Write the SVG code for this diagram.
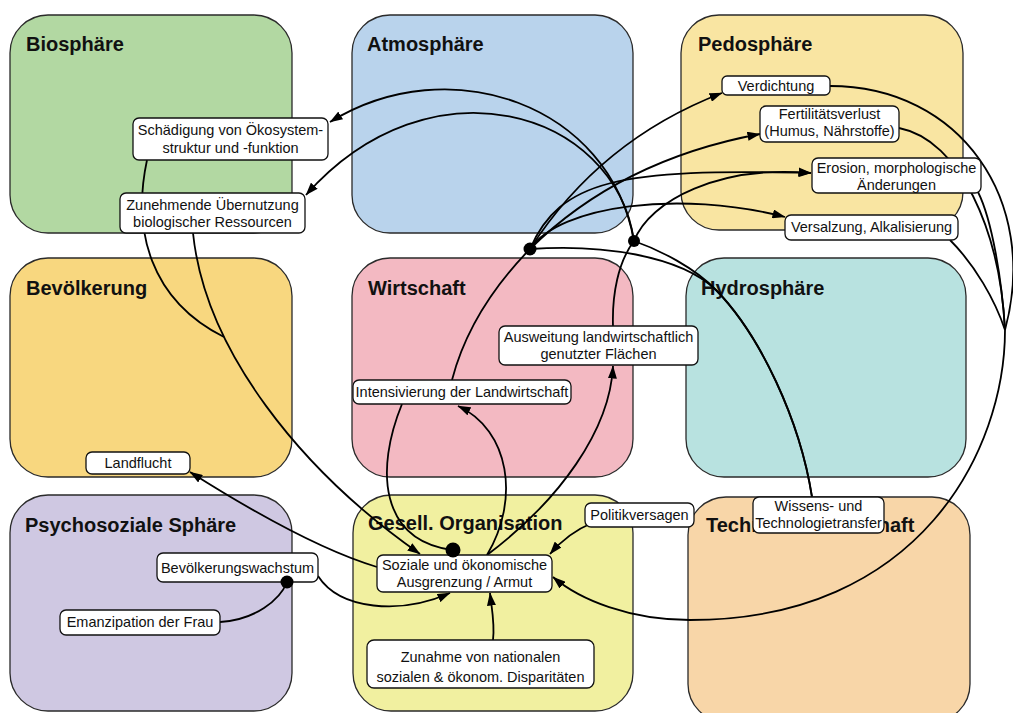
<svg xmlns="http://www.w3.org/2000/svg" width="1013" height="713" viewBox="0 0 1013 713">
<style>
.area{stroke:#2a2a2a;stroke-width:1.3}
.title{font-family:"Liberation Sans",Arial,sans-serif;font-size:20px;font-weight:bold;fill:#111}
.box{fill:#fff;stroke:#111;stroke-width:1.3}
.lbl{font-family:"Liberation Sans",Arial,sans-serif;font-size:14.5px;fill:#111;text-anchor:middle}
.c{fill:none;stroke:#000;stroke-width:1.8}
.a{marker-end:url(#arr)}
.dot{fill:#000}
</style>
<defs>
<marker id="arr" viewBox="0 0 13 9" refX="12.5" refY="4.5" markerWidth="13" markerHeight="9" markerUnits="userSpaceOnUse" orient="auto"><path d="M0,0 L13,4.5 L0,9 z" fill="#000"/></marker>
</defs>
<rect width="1013" height="713" fill="#fff"/>
<g id="areas">
<g id="biosphaere"><rect class="area" x="10" y="15" width="282" height="218" rx="38" fill="#b2d8a2"/><text class="title" x="26" y="51">Biosphäre</text></g>
<g id="atmosphaere"><rect class="area" x="352" y="15" width="281" height="218" rx="38" fill="#b9d3ec"/><text class="title" x="367" y="51">Atmosphäre</text></g>
<g id="pedosphaere"><rect class="area" x="681" y="15" width="282" height="215" rx="38" fill="#f9e5a2"/><text class="title" x="698" y="51">Pedosphäre</text></g>
<g id="bevoelkerung"><rect class="area" x="10" y="258" width="282" height="219" rx="38" fill="#f8d77f"/><text class="title" x="26" y="295">Bevölkerung</text></g>
<g id="wirtschaft"><rect class="area" x="352" y="258" width="281" height="219" rx="38" fill="#f3b9c2"/><text class="title" x="368" y="295">Wirtschaft</text></g>
<g id="hydrosphaere"><rect class="area" x="686" y="258" width="280" height="219" rx="38" fill="#b8e2e0"/><text class="title" x="701" y="295">Hydrosphäre</text></g>
<g id="psychosozial"><rect class="area" x="10" y="495" width="282" height="216" rx="38" fill="#cfc8e2"/><text class="title" x="25" y="532">Psychosoziale Sphäre</text></g>
<g id="gesellorg"><rect class="area" x="353" y="495" width="280" height="216" rx="38" fill="#f1f0a0"/><text class="title" x="368" y="530">Gesell. Organisation</text></g>
<g id="technik"><rect class="area" x="688" y="497" width="282" height="225" rx="38" fill="#f8d6a8"/><text class="title" x="706" y="532">Technik/Wissenschaft</text></g>
</g>
<g id="connectors">
<path class="c" d="M452,380 C465,330 495,285 530,249"/>
<path class="c a" d="M530,249 Q600,140 722,93"/>
<path class="c a" d="M530,249 Q620,160 760,134"/>
<path class="c a" d="M530,249 C560,180 620,168 811,173"/>
<path class="c a" d="M530,249 C560,205 680,190 785,217"/>
<path class="c" d="M613,326 C612,295 618,262 634,241"/>
<path class="c a" d="M634,241 C610,105 450,48 330,122"/>
<path class="c a" d="M634,241 C615,110 430,55 306,195"/>
<path class="c a" d="M634,241 C650,200 720,165 811,173"/>
<path class="c" d="M812,497 C800,420 760,335 716,290 C680,255 600,244 530,249"/>
<path class="c" d="M812,497 C800,420 760,335 716,290 C695,268 660,250 634,241"/>
<path class="c" d="M830,86 C960,86 1040,200 1005,330"/>
<path class="c" d="M899,128 C960,140 1000,230 1005,330"/>
<path class="c" d="M978,192 C992,220 1002,280 1005,330"/>
<path class="c" d="M950,240 C975,265 995,300 1005,330"/>
<path class="c a" d="M1005,330 C1005,450 920,620 690,620 C630,620 580,600 553,577"/>
<path class="c" d="M147,160 C132,230 150,300 224,337"/>
<path class="c a" d="M193,233 C205,350 300,470 420,554"/>
<path class="c" d="M402,404 C375,470 380,540 452,550"/>
<path class="c a" d="M487,555 C520,500 510,430 458,406"/>
<path class="c a" d="M487,555 C560,500 610,430 613,366"/>
<path class="c a" d="M377,567 C320,550 250,510 190,472"/>
<path class="c" d="M220,622 C255,620 280,600 287,582"/>
<path class="c a" d="M318,576 C340,610 400,615 450,593"/>
<path class="c a" d="M493,640 C495,625 492,610 490,593"/>
<path class="c a" d="M592,523 C575,530 562,540 550,554"/>
</g>
<g id="n-schaedigung"><rect class="box" x="133" y="118" width="195" height="42" rx="6"/><text class="lbl" x="230.5" y="135">Schädigung von Ökosystem-</text><text class="lbl" x="230.5" y="153">struktur und -funktion</text></g>
<g id="n-uebernutzung"><rect class="box" x="120" y="193" width="185" height="40" rx="6"/><text class="lbl" x="212.5" y="210">Zunehmende Übernutzung</text><text class="lbl" x="212.5" y="227">biologischer Ressourcen</text></g>
<g id="n-verdichtung"><rect class="box" x="722" y="76" width="108" height="19" rx="5"/><text class="lbl" x="776" y="90.5">Verdichtung</text></g>
<g id="n-fertilitaet"><rect class="box" x="760" y="106" width="139" height="36" rx="6"/><text class="lbl" x="829.5" y="119">Fertilitätsverlust</text><text class="lbl" x="829.5" y="136">(Humus, Nährstoffe)</text></g>
<g id="n-erosion"><rect class="box" x="812" y="158" width="169" height="35" rx="6"/><text class="lbl" x="896.5" y="173">Erosion, morphologische</text><text class="lbl" x="896.5" y="190">Änderungen</text></g>
<g id="n-versalzung"><rect class="box" x="785" y="215" width="173" height="25" rx="6"/><text class="lbl" x="871.5" y="232">Versalzung, Alkalisierung</text></g>
<g id="n-intensivierung"><rect class="box" x="353" y="380" width="218" height="24" rx="6"/><text class="lbl" x="462" y="396.5">Intensivierung der Landwirtschaft</text></g>
<g id="n-ausweitung"><rect class="box" x="499" y="326" width="199" height="39" rx="6"/><text class="lbl" x="598.5" y="342">Ausweitung landwirtschaftlich</text><text class="lbl" x="598.5" y="359">genutzter Flächen</text></g>
<g id="n-landflucht"><rect class="box" x="86" y="452" width="104" height="22" rx="6"/><text class="lbl" x="138" y="468">Landflucht</text></g>
<g id="n-bevwachstum"><rect class="box" x="157" y="553" width="161" height="29" rx="6"/><text class="lbl" x="237.5" y="572.5">Bevölkerungswachstum</text></g>
<g id="n-emanzipation"><rect class="box" x="60" y="610" width="160" height="25" rx="6"/><text class="lbl" x="140" y="627">Emanzipation der Frau</text></g>
<g id="n-soziale"><rect class="box" x="377" y="555" width="175" height="37" rx="6"/><text class="lbl" x="464.5" y="569.5">Soziale und ökonomische</text><text class="lbl" x="464.5" y="587">Ausgrenzung / Armut</text></g>
<g id="n-zunahme"><rect class="box" x="367" y="640" width="227" height="48" rx="7"/><text class="lbl" x="480.5" y="662">Zunahme von nationalen</text><text class="lbl" x="480.5" y="682">sozialen &amp; ökonom. Disparitäten</text></g>
<g id="n-politik"><rect class="box" x="585" y="503" width="109" height="24" rx="6"/><text class="lbl" x="639.5" y="520">Politikversagen</text></g>
<g id="n-wissens"><rect class="box" x="753" y="497" width="131" height="36" rx="6"/><text class="lbl" x="818.5" y="511">Wissens- und</text><text class="lbl" x="818.5" y="528">Technologietransfer</text></g>
<g id="junctions">
<circle class="dot" cx="530" cy="249" r="6.5"/>
<circle class="dot" cx="634" cy="241" r="6"/>
<circle class="dot" cx="453" cy="550" r="7.5"/>
<circle class="dot" cx="287" cy="582" r="6.5"/>
</g>
</svg>
